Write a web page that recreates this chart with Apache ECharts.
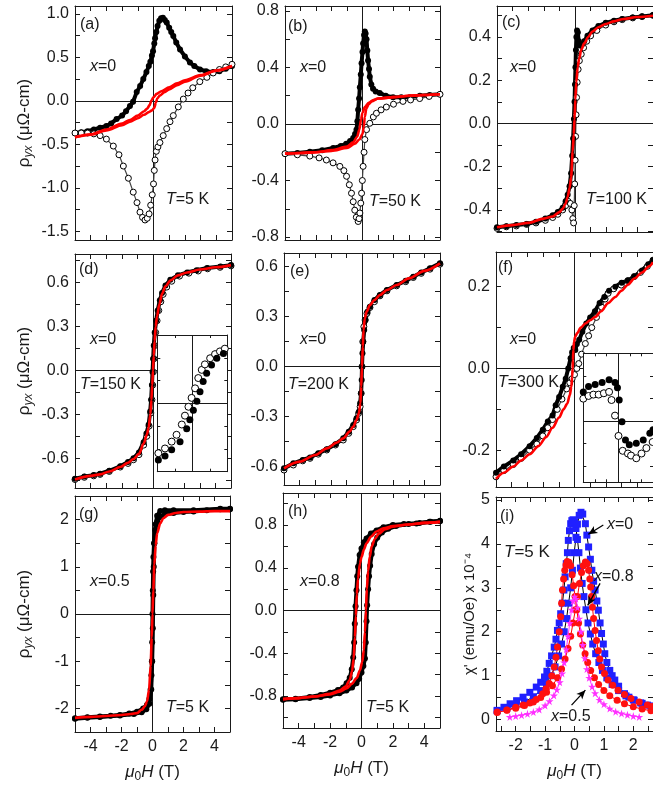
<!DOCTYPE html>
<html><head><meta charset="utf-8">
<script src="https://cdn.jsdelivr.net/npm/echarts@6/dist/echarts.min.js"></script>
<style>html,body{margin:0;padding:0;background:#fff}#c{width:653px;height:790px}</style>
</head><body><div id="c"></div>
<script>
// ---------------- DATA ----------------
// (a) x=0, T=5 K
const aFilled = [[-5,-0.37],[-4.6,-0.36],[-4.2,-0.35],[-3.8,-0.33],[-3.4,-0.31],[-3.0,-0.29],[-2.7,-0.26],[-2.35,-0.21],[-2.0,-0.17],[-1.75,-0.12],[-1.5,-0.06],[-1.3,-0.01],[-1.07,0.10],[-0.85,0.17],[-0.65,0.25],[-0.45,0.33],[-0.3,0.40],[-0.2,0.45],[-0.1,0.52],[-0.03,0.57],[0.05,0.66],[0.1,0.72],[0.18,0.79],[0.26,0.86],[0.37,0.92],[0.48,0.95],[0.6,0.955],[0.72,0.93],[0.84,0.9],[1.0,0.84],[1.13,0.79],[1.26,0.745],[1.45,0.67],[1.69,0.59],[2.0,0.51],[2.32,0.44],[2.6,0.40],[2.96,0.36],[3.35,0.34],[3.8,0.33],[4.2,0.34],[4.6,0.37],[5.0,0.40]];
const aOpen = [[-5,-0.37],[-4.6,-0.37],[-4.2,-0.37],[-3.8,-0.38],[-3.4,-0.40],[-3.0,-0.44],[-2.56,-0.52],[-2.2,-0.62],[-1.92,-0.75],[-1.6,-0.89],[-1.29,-1.05],[-1.05,-1.17],[-0.86,-1.28],[-0.7,-1.34],[-0.54,-1.37],[-0.4,-1.35],[-0.28,-1.3],[-0.18,-1.2],[-0.08,-1.08],[0.0,-0.955],[0.05,-0.8],[0.1,-0.68],[0.18,-0.58],[0.28,-0.53],[0.41,-0.48],[0.62,-0.40],[0.84,-0.32],[1.05,-0.24],[1.26,-0.17],[1.58,-0.07],[1.9,0.02],[2.2,0.09],[2.5,0.15],[2.95,0.22],[3.4,0.27],[3.8,0.32],[4.2,0.36],[4.6,0.39],[5.0,0.42]];
const aRed1 = [[-5,-0.42],[-4,-0.39],[-3,-0.34],[-2,-0.28],[-1.5,-0.24],[-1,-0.20],[-0.6,-0.16],[-0.3,-0.13],[-0.1,-0.11],[0.05,-0.08],[0.15,-0.02],[0.25,0.03],[0.4,0.06],[0.7,0.10],[1.0,0.13],[1.5,0.18],[2,0.22],[3,0.29],[4,0.345],[5,0.40]];
const aRed2 = [[-5,-0.42],[-4,-0.385],[-3,-0.33],[-2,-0.26],[-1.5,-0.22],[-1,-0.17],[-0.6,-0.12],[-0.4,-0.09],[-0.25,-0.05],[-0.12,0.01],[0,0.04],[0.2,0.08],[0.5,0.11],[1.0,0.155],[1.5,0.2],[2,0.235],[3,0.295],[4,0.35],[5,0.40]];
// (b) x=0, T=50 K
const bFilled = [[-5,-0.21],[-4.2,-0.205],[-3.4,-0.196],[-2.6,-0.185],[-1.89,-0.17],[-1.4,-0.155],[-1.05,-0.14],[-0.8,-0.12],[-0.6,-0.10],[-0.48,-0.07],[-0.39,-0.04],[-0.33,0.02],[-0.28,0.10],[-0.22,0.18],[-0.17,0.26],[-0.11,0.35],[-0.06,0.43],[0.0,0.51],[0.04,0.57],[0.1,0.63],[0.15,0.655],[0.2,0.64],[0.26,0.60],[0.31,0.52],[0.36,0.45],[0.42,0.39],[0.47,0.335],[0.57,0.28],[0.68,0.25],[0.85,0.23],[1.11,0.22],[1.5,0.2],[1.97,0.19],[2.5,0.19],[3.04,0.19],[3.7,0.2],[4.33,0.205],[5,0.21]];
const bOpen = [[-5,-0.21],[-4.2,-0.218],[-3.4,-0.227],[-2.8,-0.24],[-2.33,-0.255],[-1.9,-0.275],[-1.46,-0.30],[-1.2,-0.33],[-1.03,-0.37],[-0.85,-0.43],[-0.71,-0.49],[-0.6,-0.55],[-0.5,-0.61],[-0.4,-0.66],[-0.28,-0.69],[-0.22,-0.67],[-0.17,-0.63],[-0.11,-0.56],[-0.06,-0.49],[-0.01,-0.40],[0.04,-0.30],[0.1,-0.2],[0.15,-0.11],[0.26,-0.04],[0.47,0.005],[0.7,0.05],[0.9,0.076],[1.2,0.1],[1.54,0.12],[2.0,0.14],[2.61,0.16],[3.1,0.17],[3.69,0.18],[4.3,0.195],[5,0.21]];
const bRed1 = [[-5,-0.21],[-4,-0.205],[-3,-0.20],[-2,-0.19],[-1,-0.17],[-0.5,-0.14],[-0.2,-0.11],[0,-0.07],[0.08,-0.02],[0.15,0.05],[0.25,0.11],[0.4,0.14],[0.6,0.16],[1,0.18],[2,0.19],[3,0.2],[4,0.205],[5,0.21]];
const bRed2 = [[-5,-0.21],[-4,-0.205],[-3,-0.20],[-2,-0.185],[-1,-0.16],[-0.6,-0.13],[-0.35,-0.09],[-0.2,-0.04],[-0.1,0.03],[0,0.08],[0.15,0.12],[0.4,0.15],[0.7,0.17],[1,0.18],[2,0.19],[3,0.2],[4,0.205],[5,0.21]];
// (c) x=0, T=100 K
const cFilled = [[-5,-0.48],[-4.4,-0.475],[-3.76,-0.47],[-3.1,-0.465],[-2.5,-0.455],[-1.9,-0.44],[-1.43,-0.425],[-1.1,-0.41],[-0.79,-0.39],[-0.6,-0.36],[-0.47,-0.33],[-0.35,-0.29],[-0.25,-0.23],[-0.18,-0.15],[-0.12,-0.07],[-0.07,0.02],[-0.03,0.1],[0.0,0.18],[0.03,0.26],[0.06,0.34],[0.09,0.40],[0.13,0.43],[0.18,0.42],[0.24,0.38],[0.32,0.36],[0.45,0.365],[0.59,0.38],[0.8,0.405],[1.12,0.43],[1.5,0.45],[1.97,0.465],[2.5,0.475],[3.03,0.483],[3.7,0.49],[4.3,0.495],[5,0.5]];
const cOpen = [[-5,-0.485],[-4.4,-0.478],[-3.76,-0.474],[-3.1,-0.467],[-2.5,-0.46],[-1.9,-0.448],[-1.43,-0.435],[-1.1,-0.42],[-0.79,-0.40],[-0.6,-0.38],[-0.45,-0.36],[-0.3,-0.37],[-0.2,-0.40],[-0.14,-0.44],[-0.09,-0.46],[-0.05,-0.38],[-0.02,-0.28],[0.01,-0.17],[0.04,-0.06],[0.07,0.04],[0.1,0.12],[0.14,0.19],[0.2,0.25],[0.28,0.29],[0.4,0.32],[0.55,0.35],[0.75,0.38],[1.0,0.405],[1.4,0.43],[1.97,0.455],[2.5,0.47],[3.03,0.48],[3.7,0.488],[4.3,0.494],[5,0.5]];
const cRed = [[-5,-0.48],[-4,-0.47],[-3,-0.46],[-2,-0.44],[-1.43,-0.43],[-1,-0.41],[-0.79,-0.395],[-0.6,-0.37],[-0.47,-0.34],[-0.35,-0.3],[-0.25,-0.25],[-0.15,-0.13],[-0.08,-0.05],[-0.03,0.02],[0.02,0.11],[0.08,0.19],[0.17,0.26],[0.27,0.3],[0.4,0.34],[0.59,0.37],[0.85,0.4],[1.12,0.425],[1.5,0.445],[1.97,0.46],[2.5,0.472],[3.03,0.482],[4,0.492],[5,0.498]];
// (d) x=0, T=150 K
const dFilled = [[-5,-0.74],[-4.4,-0.725],[-3.8,-0.715],[-3.39,-0.705],[-2.8,-0.685],[-2.1,-0.655],[-1.6,-0.625],[-1.25,-0.6],[-0.9,-0.56],[-0.6,-0.49],[-0.42,-0.43],[-0.28,-0.37],[-0.18,-0.28],[-0.12,-0.2],[-0.07,-0.1],[-0.03,-0.01],[0.01,0.08],[0.05,0.17],[0.11,0.26],[0.2,0.34],[0.3,0.41],[0.44,0.48],[0.58,0.53],[0.8,0.58],[1.11,0.62],[1.6,0.65],[2.19,0.67],[2.8,0.685],[3.47,0.70],[4.33,0.71],[5,0.72]];
const dOpen = [[-5,-0.745],[-4.4,-0.73],[-3.8,-0.72],[-3.39,-0.71],[-2.8,-0.69],[-2.1,-0.66],[-1.6,-0.635],[-1.25,-0.61],[-0.9,-0.575],[-0.6,-0.51],[-0.4,-0.45],[-0.25,-0.38],[-0.14,-0.29],[-0.07,-0.2],[-0.02,-0.1],[0.02,-0.01],[0.06,0.08],[0.11,0.17],[0.17,0.26],[0.26,0.34],[0.37,0.41],[0.5,0.47],[0.65,0.52],[0.88,0.57],[1.2,0.61],[1.7,0.645],[2.3,0.665],[2.9,0.68],[3.5,0.695],[4.3,0.705],[5,0.715]];
const dRed = [[-5,-0.745],[-4,-0.72],[-3.39,-0.71],[-2.8,-0.69],[-2.1,-0.66],[-1.6,-0.63],[-1.25,-0.605],[-0.9,-0.57],[-0.6,-0.5],[-0.4,-0.44],[-0.28,-0.39],[-0.17,-0.3],[-0.1,-0.2],[-0.05,-0.1],[0,0],[0.05,0.1],[0.1,0.2],[0.17,0.3],[0.26,0.37],[0.4,0.45],[0.58,0.525],[0.8,0.575],[1.11,0.615],[1.6,0.65],[2.19,0.67],[3,0.69],[4,0.705],[5,0.72]];
const dInsetOpen = [[-0.97,-0.73],[-0.78,-0.66],[-0.59,-0.56],[-0.45,-0.46],[-0.30,-0.31],[-0.21,-0.18],[-0.11,-0.05],[-0.02,0.08],[0.08,0.22],[0.17,0.37],[0.27,0.49],[0.36,0.57],[0.51,0.66],[0.65,0.72],[0.79,0.76],[0.93,0.80]];
const dInsetFilled = [[-0.97,-0.83],[-0.78,-0.77],[-0.59,-0.68],[-0.35,-0.56],[-0.16,-0.37],[-0.07,-0.24],[0.03,-0.10],[0.13,0.03],[0.22,0.17],[0.31,0.32],[0.41,0.44],[0.55,0.56],[0.70,0.66],[0.89,0.73]];
// (e) x=0, T=200 K
const eFilled = [[-5,-0.61],[-4.4,-0.58],[-3.8,-0.56],[-3.33,-0.545],[-2.8,-0.52],[-2.26,-0.495],[-1.7,-0.465],[-1.2,-0.43],[-0.85,-0.39],[-0.56,-0.35],[-0.35,-0.31],[-0.2,-0.27],[-0.12,-0.22],[-0.06,-0.16],[-0.02,-0.08],[0,0],[0.03,0.08],[0.08,0.15],[0.14,0.22],[0.22,0.28],[0.35,0.33],[0.51,0.36],[0.8,0.4],[1.15,0.43],[1.6,0.46],[2.22,0.49],[2.8,0.515],[3.29,0.54],[3.8,0.565],[4.36,0.59],[5,0.62]];
const eOpen = [[-5,-0.62],[-4.4,-0.59],[-3.8,-0.565],[-3.33,-0.55],[-2.8,-0.525],[-2.26,-0.5],[-1.7,-0.47],[-1.2,-0.44],[-0.85,-0.40],[-0.56,-0.36],[-0.35,-0.32],[-0.22,-0.28],[-0.12,-0.24],[-0.05,-0.16],[0,0],[0.05,0.15],[0.12,0.24],[0.2,0.28],[0.32,0.32],[0.51,0.355],[0.8,0.39],[1.15,0.425],[1.6,0.455],[2.22,0.485],[2.8,0.51],[3.29,0.535],[3.8,0.56],[4.36,0.585],[5,0.615]];
const eRed = [[-5,-0.61],[-4,-0.57],[-3,-0.53],[-2.26,-0.49],[-1.6,-0.455],[-1.2,-0.43],[-0.8,-0.39],[-0.56,-0.36],[-0.35,-0.32],[-0.2,-0.28],[-0.1,-0.22],[-0.05,-0.12],[0,0],[0.05,0.12],[0.1,0.22],[0.18,0.29],[0.3,0.33],[0.51,0.37],[0.8,0.4],[1.15,0.43],[1.6,0.46],[2.22,0.49],[3,0.53],[4,0.575],[5,0.62]];
// (f) x=0, T=300 K
const fFilled = [[-5,-0.255],[-4.5,-0.24],[-3.9,-0.225],[-3.4,-0.21],[-2.86,-0.19],[-2.4,-0.17],[-2.02,-0.15],[-1.7,-0.13],[-1.4,-0.115],[-1.2,-0.09],[-0.98,-0.07],[-0.75,-0.045],[-0.56,-0.025],[-0.4,0.0],[-0.25,0.025],[-0.15,0.04],[-0.05,0.05],[0.05,0.045],[0.15,0.06],[0.3,0.07],[0.5,0.09],[0.75,0.11],[1.0,0.125],[1.3,0.14],[1.6,0.16],[1.9,0.175],[2.2,0.19],[2.6,0.2],[3.0,0.21],[3.4,0.215],[3.8,0.225],[4.3,0.24],[4.7,0.255],[5,0.265]];
const fOpen = [[-5,-0.265],[-4.5,-0.25],[-3.9,-0.235],[-3.4,-0.22],[-2.86,-0.2],[-2.4,-0.185],[-2.02,-0.165],[-1.7,-0.145],[-1.4,-0.125],[-1.1,-0.1],[-0.8,-0.075],[-0.5,-0.05],[-0.3,-0.035],[-0.15,-0.025],[0,-0.015],[0.15,0.0],[0.27,0.012],[0.45,0.035],[0.69,0.061],[0.9,0.08],[1.1,0.1],[1.4,0.125],[1.73,0.15],[1.95,0.17],[2.14,0.184],[2.5,0.195],[2.98,0.204],[3.4,0.215],[3.81,0.225],[4.2,0.235],[4.64,0.25],[5,0.265]];
const fRed = [[-5,-0.27],[-4.5,-0.255],[-3.9,-0.24],[-3.4,-0.225],[-2.86,-0.21],[-2.3,-0.19],[-1.81,-0.168],[-1.4,-0.145],[-0.98,-0.12],[-0.7,-0.1],[-0.46,-0.086],[-0.3,-0.065],[-0.2,-0.045],[-0.15,-0.02],[-0.12,0.0],[-0.1,0.02],[-0.07,0.045],[-0.03,0.065],[0.05,0.078],[0.16,0.086],[0.4,0.1],[0.69,0.11],[1.0,0.118],[1.31,0.126],[1.7,0.14],[2.14,0.16],[2.6,0.175],[2.98,0.19],[3.4,0.205],[3.81,0.22],[4.3,0.235],[4.75,0.25],[5,0.26]];
const fInsetFilled = [[-1.0,0.43],[-0.85,0.51],[-0.66,0.54],[-0.46,0.57],[-0.26,0.61],[-0.09,0.57],[-0.02,0.49],[0.03,0.31],[0.11,-0.01],[0.21,-0.28],[0.32,-0.35],[0.52,-0.33],[0.72,-0.28],[0.91,-0.18],[1.0,-0.13]];
const fInsetOpen = [[-1.0,0.33],[-0.85,0.37],[-0.71,0.39],[-0.56,0.39],[-0.41,0.41],[-0.26,0.43],[-0.19,0.31],[-0.09,0.08],[0.01,-0.22],[0.13,-0.44],[0.28,-0.48],[0.37,-0.51],[0.52,-0.55],[0.67,-0.48],[0.81,-0.40],[0.99,-0.31]];
// (g) x=0.5, T=5 K
const gFilled1 = [[-5,-2.21],[-4.2,-2.19],[-3.39,-2.17],[-2.7,-2.155],[-2.1,-2.14],[-1.5,-2.11],[-1.0,-2.07],[-0.6,-2.0],[-0.36,-1.93],[-0.2,-1.8],[-0.12,-1.6],[-0.07,-1.3],[-0.04,-1.0],[-0.02,-0.6],[0,0],[0.02,0.5],[0.04,0.9],[0.06,1.21],[0.1,1.5],[0.17,1.78],[0.3,1.95],[0.5,2.06],[0.8,2.11],[1.36,2.14],[2.0,2.16],[2.65,2.17],[3.5,2.2],[4.37,2.22],[5,2.22]];
const gFilled2 = [[-5,-2.22],[-4.2,-2.2],[-3.39,-2.18],[-2.1,-2.15],[-1.2,-2.12],[-0.7,-2.08],[-0.4,-2.02],[-0.2,-1.9],[-0.08,-1.6],[-0.02,-1.0],[0.02,-0.3],[0.05,0.4],[0.08,1.0],[0.12,1.5],[0.2,1.9],[0.3,2.08],[0.5,2.18],[0.8,2.2],[1.36,2.2],[2.65,2.2],[4.37,2.23],[5,2.23]];
const gRed = [[-5,-2.2],[-4,-2.18],[-3,-2.16],[-2,-2.14],[-1.4,-2.12],[-1,-2.1],[-0.7,-2.03],[-0.5,-1.96],[-0.35,-1.85],[-0.22,-1.6],[-0.12,-1.1],[-0.05,-0.5],[0,0],[0.05,0.5],[0.12,1.05],[0.2,1.45],[0.3,1.71],[0.5,1.92],[0.7,2.03],[1.0,2.1],[1.5,2.14],[2,2.16],[3,2.17],[4,2.18],[5,2.18]];
// (h) x=0.8, T=5 K
const hFilledL = [[-5,-0.83],[-4.2,-0.825],[-3.3,-0.81],[-2.6,-0.79],[-2.0,-0.77],[-1.5,-0.745],[-1.17,-0.72],[-0.95,-0.68],[-0.75,-0.63],[-0.62,-0.55],[-0.53,-0.44],[-0.47,-0.3],[-0.43,-0.125],[-0.38,0.04],[-0.32,0.19],[-0.27,0.32],[-0.22,0.41],[-0.12,0.52],[0.0,0.58],[0.15,0.64],[0.32,0.675],[0.6,0.72],[0.96,0.75],[1.4,0.78],[2.0,0.80],[2.7,0.81],[3.5,0.815],[4.33,0.83],[5,0.835]];
const hFilledR = [[-5,-0.835],[-4.2,-0.83],[-3.3,-0.82],[-2.6,-0.81],[-2.0,-0.795],[-1.4,-0.775],[-0.96,-0.75],[-0.6,-0.72],[-0.32,-0.68],[-0.15,-0.64],[0.0,-0.58],[0.12,-0.52],[0.22,-0.45],[0.27,-0.3],[0.32,-0.1],[0.36,0.05],[0.42,0.2],[0.48,0.32],[0.55,0.42],[0.65,0.53],[0.8,0.62],[1.0,0.68],[1.3,0.73],[1.7,0.765],[2.2,0.79],[3.0,0.81],[3.7,0.82],[4.4,0.83],[5,0.84]];
const hRedL = [[-5,-0.83],[-4,-0.82],[-3,-0.805],[-2,-0.78],[-1.4,-0.75],[-1.0,-0.71],[-0.75,-0.65],[-0.6,-0.57],[-0.5,-0.45],[-0.42,-0.25],[-0.36,-0.05],[-0.3,0.15],[-0.22,0.3],[-0.1,0.44],[0.0,0.5],[0.15,0.57],[0.32,0.63],[0.6,0.69],[0.96,0.74],[1.4,0.77],[2.0,0.79],[3,0.805],[4,0.82],[5,0.83]];
const hRedR = [[-5,-0.83],[-4,-0.82],[-3,-0.805],[-2,-0.785],[-1.4,-0.76],[-0.96,-0.73],[-0.6,-0.685],[-0.3,-0.63],[-0.1,-0.56],[0.05,-0.48],[0.15,-0.37],[0.22,-0.2],[0.28,0.0],[0.34,0.2],[0.42,0.37],[0.52,0.5],[0.65,0.6],[0.85,0.67],[1.1,0.72],[1.5,0.76],[2.0,0.785],[3,0.805],[4,0.82],[5,0.83]];
// (i) ac susceptibility chi' (x 1e-4 emu/Oe), T=5 K
const iBlueA = [[-2.63,0.21],[-2.4,0.28],[-2.19,0.36],[-1.97,0.43],[-1.75,0.51],[-1.52,0.62],[-1.3,0.74],[-1.15,0.85],[-1.02,0.97],[-0.94,1.1],[-0.86,1.28],[-0.78,1.45],[-0.69,1.65],[-0.63,1.83],[-0.58,2.03],[-0.52,2.2],[-0.47,2.41],[-0.41,2.65],[-0.36,2.95],[-0.32,3.25],[-0.28,3.55],[-0.24,3.8],[-0.21,4.08],[-0.17,4.3],[-0.13,4.46],[-0.09,4.53],[-0.05,4.55],[0.0,4.5],[0.05,4.35],[0.1,4.1],[0.15,3.8],[0.2,3.45],[0.26,3.1],[0.32,2.8],[0.39,2.5],[0.46,2.2],[0.54,1.95],[0.62,1.72],[0.72,1.5],[0.83,1.3],[0.95,1.12],[1.1,0.95],[1.28,0.8],[1.5,0.66],[1.75,0.54],[2.0,0.45],[2.3,0.37],[2.6,0.31]];
const iBlueB = [[-2.63,0.2],[-2.3,0.26],[-2.0,0.32],[-1.7,0.4],[-1.4,0.52],[-1.15,0.66],[-0.95,0.82],[-0.8,1.0],[-0.66,1.2],[-0.54,1.45],[-0.44,1.72],[-0.35,2.0],[-0.27,2.3],[-0.2,2.65],[-0.13,3.0],[-0.07,3.4],[-0.01,3.8],[0.05,4.15],[0.1,4.45],[0.16,4.65],[0.22,4.72],[0.28,4.68],[0.37,4.46],[0.42,4.2],[0.48,3.93],[0.54,3.65],[0.59,3.4],[0.65,3.15],[0.7,2.95],[0.76,2.7],[0.81,2.49],[0.87,2.2],[0.92,1.96],[0.98,1.72],[1.03,1.5],[1.1,1.3],[1.2,1.12],[1.28,1.0],[1.37,0.9],[1.5,0.76],[1.7,0.59],[1.85,0.51],[2.03,0.44],[2.25,0.38],[2.48,0.33],[2.65,0.3]];
const iRedA = [[-2.63,0.16],[-2.3,0.22],[-2.0,0.28],[-1.75,0.33],[-1.52,0.38],[-1.3,0.46],[-1.08,0.59],[-0.97,0.7],[-0.86,0.82],[-0.77,1.0],[-0.69,1.2],[-0.63,1.42],[-0.58,1.65],[-0.52,2.0],[-0.47,2.34],[-0.44,2.65],[-0.41,2.95],[-0.37,3.2],[-0.33,3.4],[-0.29,3.52],[-0.25,3.6],[-0.19,3.58],[-0.13,3.5],[-0.08,3.3],[-0.03,3.05],[0.02,2.8],[0.08,2.5],[0.14,2.2],[0.2,1.95],[0.28,1.7],[0.36,1.5],[0.45,1.3],[0.55,1.12],[0.68,0.95],[0.82,0.8],[1.0,0.66],[1.2,0.54],[1.45,0.44],[1.7,0.36],[2.0,0.29],[2.3,0.24],[2.6,0.2]];
const iRedB = [[-2.63,0.17],[-2.3,0.21],[-2.0,0.26],[-1.7,0.32],[-1.4,0.4],[-1.15,0.5],[-0.95,0.62],[-0.75,0.77],[-0.58,0.95],[-0.44,1.15],[-0.32,1.38],[-0.22,1.62],[-0.13,1.9],[-0.05,2.2],[0.03,2.5],[0.1,2.8],[0.17,3.1],[0.24,3.35],[0.3,3.5],[0.37,3.59],[0.43,3.55],[0.48,3.4],[0.52,3.2],[0.55,3.02],[0.58,2.8],[0.61,2.56],[0.65,2.3],[0.7,2.03],[0.75,1.8],[0.81,1.57],[0.86,1.38],[0.92,1.2],[1.02,1.05],[1.14,0.9],[1.3,0.78],[1.48,0.67],[1.7,0.57],[1.92,0.48],[2.2,0.4],[2.48,0.33],[2.65,0.3]];
const iMagenta = [[-2.2,0.06],[-2.0,0.08],[-1.8,0.1],[-1.6,0.13],[-1.4,0.17],[-1.2,0.23],[-1.0,0.32],[-0.85,0.42],[-0.7,0.55],[-0.6,0.68],[-0.5,0.85],[-0.42,1.05],[-0.35,1.3],[-0.28,1.6],[-0.22,1.9],[-0.16,2.2],[-0.1,2.5],[-0.05,2.7],[0.0,2.8],[0.05,2.75],[0.1,2.55],[0.16,2.3],[0.22,2.0],[0.28,1.7],[0.35,1.4],[0.42,1.15],[0.5,0.95],[0.6,0.75],[0.7,0.6],[0.85,0.45],[1.0,0.35],[1.2,0.25],[1.4,0.18],[1.6,0.14],[1.8,0.11],[2.0,0.08],[2.2,0.06]];
// annotation arrows in (i): [from, to] in data units
const iArrows = [[[0.98,4.43],[0.47,4.22]],[[0.87,3.1],[0.45,2.6]],[[-0.1,0.33],[0.37,0.67]]];

// ---------------- LAYOUT ----------------
const FONT = '"Liberation Sans", Arial, Helvetica, sans-serif';
const INK = '#1a1a1a';
function ticks(min, max, step) {
  const out = []; const k0 = Math.ceil(min / step - 1e-9), k1 = Math.floor(max / step + 1e-9);
  for (let k = k0; k <= k1; k++) out.push(+(k * step).toFixed(6));
  return out;
}
const panels = [
  {l:75,  t:6,   w:157, h:234, x:[-5,5], y:[-1.6,1.09],   xs:1, xl:2, ys:0.25, yl:0.5, dec:1, zero:true},
  {l:285, t:6,   w:155, h:234, x:[-5,5], y:[-0.821,0.835], xs:1, xl:2, ys:0.2, yl:0.4, dec:1, zero:true},
  {l:497, t:6,   w:158, h:226, x:[-5,5], y:[-0.502,0.543], xs:1, xl:2, ys:0.1, yl:0.2, dec:1, zero:true},
  {l:75,  t:254, w:156, h:234, x:[-5,5], y:[-0.803,0.796], xs:1, xl:2, ys:0.15, yl:0.3, dec:1, zero:true},
  {l:284, t:253, w:156, h:232, x:[-5,5], y:[-0.71,0.682],  xs:1, xl:2, ys:0.15, yl:0.3, dec:1, zero:true},
  {l:496, t:252, w:160, h:235, x:[-5,5], y:[-0.29,0.285],  xs:1, xl:2, ys:0.1, yl:0.2, dec:1, zero:true},
  {l:75,  t:496, w:155, h:236, x:[-5,5], y:[-2.5,2.5],     xs:1, xl:2, ys:0.5, yl:1, dec:0, zero:true, xlab:true},
  {l:283, t:493, w:157, h:235, x:[-5,5], y:[-1.1,1.1],     xs:1, xl:2, ys:0.2, yl:0.4, dec:1, zero:true, xlab:true},
  {l:496, t:497, w:160, h:234, x:[-2.67,2.67], y:[-0.26,5.068], xs:0.5, xl:1, ys:0.5, yl:1, dec:0, zero:false, xlab:true},
  {l:157.3, t:335, w:70, h:136.7, x:[-1,1], y:[-1,1], xs:0.5, ys:1/3, inset:true, zero:true},
  {l:583.3, t:353.3, w:70, h:129, x:[-1,1], y:[-0.905,1], xs:1/3, ys:1/3, inset:true, zero:true}
];

const grid = [], xAxis = [], yAxis = [], series = [];
const axLine = {show:true, onZero:false, lineStyle:{color:INK, width:1}};
const tickLS = {color:INK, width:1};
const rhoName = '{r|ρ}{s|yx}{n| (μΩ-cm)}';
const rhoRich = {r:{fontSize:17, fontFamily:FONT, color:INK, lineHeight:22}, s:{fontSize:12, fontStyle:'italic', fontFamily:FONT, color:INK, verticalAlign:'bottom', lineHeight:12}, n:{fontSize:17, fontFamily:FONT, color:INK, lineHeight:22}};
const muName = '{i|μ}{s|0}{i|H}{n| (T)}';
const muRich = {i:{fontSize:17, fontStyle:'italic', fontFamily:FONT, color:INK, lineHeight:22}, s:{fontSize:12, fontFamily:FONT, color:INK, verticalAlign:'bottom', lineHeight:12}, n:{fontSize:17, fontFamily:FONT, color:INK, lineHeight:22}};

panels.forEach((p, i) => {
  const z = p.inset ? 11 : 0;
  grid.push({left:p.l, top:p.t, width:p.w, height:p.h, show: !!p.inset, backgroundColor:'#fff', borderWidth:0, z: p.inset ? 10 : 0});
  const xt = ticks(p.x[0], p.x[1], p.xs);
  const yt = ticks(p.y[0], p.y[1], p.ys);
  const xlv = p.xl ? ticks(p.x[0], p.x[1], p.xl) : [];
  const ylv = p.yl ? ticks(p.y[0], p.y[1], p.yl) : [];
  const tl = p.inset ? 3 : 5;
  const base = {type:'value', gridIndex:i, splitLine:{show:false}, axisLine:axLine, z:z};
  xAxis.push(Object.assign({}, base, {min:p.x[0], max:p.x[1], position:'bottom',
    axisTick:{inside:true, length:tl, lineStyle:tickLS, customValues:xt},
    axisLabel:{show:!!p.xlab, customValues:xlv, margin:7, color:INK, fontSize:16, fontFamily:FONT, formatter:v=>String(v)},
    name: p.xlab ? muName : '', nameLocation:'middle', nameGap:29, nameTextStyle:{rich:muRich}}));
  xAxis.push(Object.assign({}, base, {min:p.x[0], max:p.x[1], position:'top',
    axisTick:{inside:true, length:tl, lineStyle:tickLS, customValues:xt}, axisLabel:{show:false}}));
  let yname = '', yrich = rhoRich, ygap = 40;
  if (i === 0 || i === 3 || i === 6) { yname = rhoName; }
  if (i === 8) { yname = "χ' (emu/Oe) x 10⁻⁴"; ygap = 9; yrich = null; }
  yAxis.push(Object.assign({}, base, {min:p.y[0], max:p.y[1], position:'left',
    axisTick:{inside:true, length:tl, lineStyle:tickLS, customValues:yt},
    axisLabel:{show:!p.inset, customValues:ylv, margin:6, color:INK, fontSize:16, fontFamily:FONT, formatter:v=>v.toFixed(p.dec)},
    name:yname, nameLocation:'middle', nameRotate:90, nameGap:ygap,
    nameTextStyle: yrich ? {rich:yrich} : {fontSize:15, fontFamily:FONT, color:INK}}));
  yAxis.push(Object.assign({}, base, {min:p.y[0], max:p.y[1], position:'right',
    axisTick:{inside:true, length:tl, lineStyle:tickLS, customValues:yt}, axisLabel:{show:false}}));
  if (p.zero) {
    series.push({type:'line', xAxisIndex:2*i, yAxisIndex:2*i, data:[], z: p.inset ? 11 : 1, silent:true,
      markLine:{silent:true, z: p.inset ? 11 : 1, symbol:'none', label:{show:false}, animation:false,
        lineStyle:{color:INK, type:'solid', width:1}, data:[{xAxis:0},{yAxis:0}]}});
  }
});

function filled(pi, data, inset) {
  return {type:'line', xAxisIndex:2*pi, yAxisIndex:2*pi, data, symbol:'circle', symbolSize: inset ? 7 : 6,
    showSymbol:true, itemStyle:{color:'#000'}, lineStyle:{color:'#000', width: inset ? 0 : 4}, z: inset ? 12 : 2, silent:true};
}
function open(pi, data, inset) {
  return {type:'line', xAxisIndex:2*pi, yAxisIndex:2*pi, data, symbol:'circle', symbolSize: inset ? 7 : 6,
    showSymbol:true, itemStyle:{color:'#fff', borderColor:'#000', borderWidth:1}, lineStyle:{color:'#444', width: inset ? 0 : 1.2}, z: inset ? 12 : 2, silent:true};
}
function red(pi, data) {
  return {type:'line', xAxisIndex:2*pi, yAxisIndex:2*pi, data, symbol:'none', smooth:0.3, smoothMonotone:'x',
    lineStyle:{color:'#f00', width:2.6}, z:4, silent:true};
}
series.push(filled(0,aFilled), open(0,aOpen), red(0,aRed1), red(0,aRed2));
series.push(filled(1,bFilled), open(1,bOpen), red(1,bRed1), red(1,bRed2));
series.push(open(2,cOpen), filled(2,cFilled), red(2,cRed));
series.push(open(3,dOpen), filled(3,dFilled), red(3,dRed));
series.push(open(4,eOpen), filled(4,eFilled), red(4,eRed));
series.push(open(5,fOpen), filled(5,fFilled), red(5,fRed));
series.push(filled(6,gFilled1), filled(6,gFilled2), red(6,gRed));
series.push(filled(7,hFilledL), filled(7,hFilledR), red(7,hRedL), red(7,hRedR));
series.push(open(9,dInsetOpen,true), filled(9,dInsetFilled,true));
series.push(filled(10,fInsetFilled,true), open(10,fInsetOpen,true));
const STAR = 'path://M50,0 L61,35 L98,35 L68,57 L79,91 L50,70 L21,91 L32,57 L2,35 L39,35 Z';
function chi(data, sym, size, col, lcol) {
  return {type:'line', xAxisIndex:16, yAxisIndex:16, data, symbol:sym, symbolSize:size, showSymbol:true,
    itemStyle:{color:col}, lineStyle:{color:lcol, width:1}, z:3, silent:true};
}
series.push(chi(iBlueA,'rect',7,'#2020ff','#000'), chi(iBlueB,'rect',7,'#2020ff','#000'));
series.push(chi(iRedA,'circle',7,'#ff1010','#f00'), chi(iRedB,'circle',7,'#ff1010','#f00'));
series.push(chi(iMagenta,STAR,8,'#ff30ff','#ff30ff'));
series.push({type:'line', xAxisIndex:16, yAxisIndex:16, data:[], z:6, silent:true,
  markLine:{silent:true, z:6, symbol:['none','arrow'], symbolSize:[6,9], label:{show:false}, animation:false,
    lineStyle:{color:'#000', type:'solid', width:1.3},
    data: iArrows.map(a => [{coord:a[0]}, {coord:a[1]}])}});

function txt(x, y, s, size) {
  size = size || 16;
  return {type:'text', x, y, z:20, silent:true, style:{text:s, fontSize:size, fontFamily:FONT, fill:INK, verticalAlign:'middle', align:'left',
    rich:{i:{fontStyle:'italic', fontSize:size, fontFamily:FONT, fill:INK}}}};
}
const graphic = [
  txt(80,25,'(a)'), txt(90,67,'{i|x}=0'), txt(166,200,'{i|T}=5 K'),
  txt(288,27,'(b)'), txt(300,68,'{i|x}=0'), txt(369,202,'{i|T}=50 K'),
  txt(502,23,'(c)'), txt(510,68,'{i|x}=0'), txt(586,200,'{i|T}=100 K'),
  txt(79,270,'(d)'), txt(90,340,'{i|x}=0'), txt(80,385,'{i|T}=150 K'),
  txt(290,272,'(e)'), txt(300,340,'{i|x}=0'), txt(288,385,'{i|T}=200 K'),
  txt(498,268,'(f)'), txt(510,340,'{i|x}=0'), txt(498,383,'{i|T}=300 K'),
  txt(79,515,'(g)'), txt(90,582,'{i|x}=0.5'), txt(166,708,'{i|T}=5 K'),
  txt(288,512,'(h)'), txt(300,582,'{i|x}=0.8'), txt(366,708,'{i|T}=5 K'),
  txt(500,517,'(i)'), txt(504,552,'{i|T}=5 K', 17), txt(607,525,'{i|x}=0'), txt(594,577,'{i|x}=0.8'), txt(551,717,'{i|x}=0.5')
];

const chart = echarts.init(document.getElementById('c'), null, {renderer:'canvas'});
chart.setOption({animation:false, backgroundColor:'#fff', grid, xAxis, yAxis, series, graphic});
</script></body></html>
